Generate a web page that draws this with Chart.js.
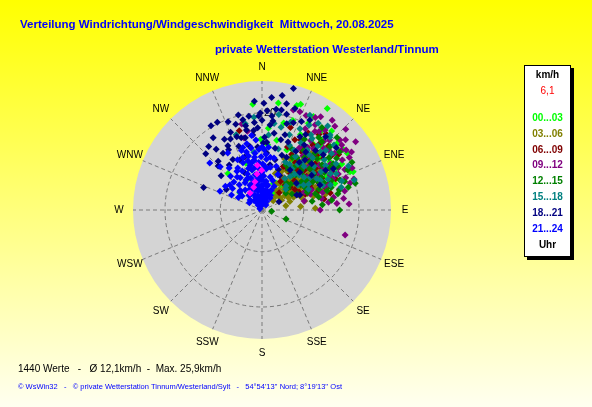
<!DOCTYPE html>
<html>
<head>
<meta charset="utf-8">
<script src="https://cdn.jsdelivr.net/npm/chart.js@4.4.1/dist/chart.umd.min.js"></script>
<style>
  html, body { margin: 0; padding: 0; }
  #wrap { width: 592px; height: 407px; position: relative; }
</style>
</head>
<body>
<div id="wrap"><canvas id="chart"></canvas></div>
<script>
// texts
const titleText = 'Verteilung Windrichtung/Windgeschwindigkeit  Mittwoch, 20.08.2025';
const subtitleText = 'private Wetterstation Westerland/Tinnum';
const valueCount = 1440;
const avgSpeed = '12,1';
const maxSpeed = '25,9';
const footerText = '\u00a9 WsWin32   -   \u00a9 private Wetterstation Tinnum/Westerland/Sylt   -   54\u00b054\'13\'\' Nord; 8\u00b019\'13\'\' Ost';

// compass + radial scale (km/h)
const dirLabels = ['N', 'NNE', 'NE', 'ENE', 'E', 'ESE', 'SE', 'SSE',
                   'S', 'SSW', 'SW', 'WSW', 'W', 'WNW', 'NW', 'NNW'];
const ringSpeeds = [8.6, 20];
const ringLabels = ['', '20'];
const radiusMax = 26.6;

// legend
const legendUnit = 'km/h';
const legendValue = '6,1';
const hourRanges = ['00...03', '03...06', '06...09', '09...12', '12...15', '15...18', '18...21', '21...24'];
const hourColors = ['#00FF00', '#808000', '#800000', '#800080', '#008000', '#008080', '#000080', '#0000FF'];

// points: [direction in degrees, speed in km/h]
const h00_03 = [[355,21.9],[8.7,22.3],[20.1,23.2],[18.4,22.7],[32.7,24.9],[28.8,22.0],[28.1,20.3],[41.4,21.7],
  [48.5,20.7],[56.4,21.1],[66.5,19.8],[60.8,17.6],[53.3,20.9],[308,5.8],[359,14.6],[5,13.5],[341,10.2],
  [38.7,17.2],[46.8,18.6],[40.7,19.0],[51.4,18.4],[54.6,17.2],[67.2,20.4],[317,10.3],[337,7.1],[346,8.5],
  [34,4.2],[28.8,6.3],[11.9,14.7],[22.4,13.4],[35,14.7],[44.8,14.5],[56,15.9],[29.7,10.3],[23,6.0],
  [36.7,17.2],[4.4,16.9],
  [33,12],[40,11],[46,13],[52,14],[58,12.5],[63,15],[48,16],[43,18],[37,20.5],[27,17.5],[19,19.5],
  [14,18.5],[60,19],[70,16],[55,10.5],[45,8.5],[38,6.5],[65,11],[31,5],[25,8]];
const h03_06 = [[45,4],[50,6],[55,8],[60,9],[40,7],[35,5],[65,6],[70,10],[48,11],[52,12],[58,10.5],[62,7.5],
  [42,9],[38,10],[30,8],[28,6],[45,3],[55,4.5],[67,12],[72,8.5],[75,11],[50,13],[44,13.5],[60,13],[36,12],
  [33,9.5],[47,8],[53,10],[64,11.5],[57,7],
  [40,5.5],[46,6.5],[52,7.5],[58,5.5],[63,4.5],[68,7],[73,6],[78,9],[80,5],[34,6.5],[31,11],[39,13],
  [43,11.5],[49,9.5],[54,11],[59,8.5],[66,9.5],[71,12.5],[76,13.5],[56,14],[49,15],[41,15.5],[62,16],
  [69,14.5],[27,9],[24,11.5],[20,8],[85,8],[88,11],[51,3],
  [43,8],[47,10],[52,8.5],[56,9.5],[61,11],[65,13],[68,11],[72,13.5],[38,8],[35,11],[29,12],[60,6.5]];
const h06_09 = [[30,10],[35,12],[40,14],[45,16],[50,13],[55,15],[38,17],[42,11],[48,9],[58,12],[62,14],
  [33,15],[28,13],[25,16],[52,18],[46,19],[36,8],[60,10],[65,13],[40,20.5],[31,18.5],[344,17],[55,9.5],
  [44,12.5],[50,16.5],[68,15],
  [38,9.5],[43,7],[47,12],[53,11.5],[57,13.5],[61,16.5],[66,11],[72,12],[76,14.5],[35,14.5],[29,16.5],
  [22,14],[26,10],[41,18],[49,14.5],[54,19.5],[59,17.5],[64,8.5],[70,9.5],[45,5],[33,7],[37,19.5],
  [51,7.5],[80,13],[19,18],
  [39,12],[44,14.5],[48,11],[52,14],[56,10.5],[60,12.5],[63,11],[67,16.5],[71,14],[34,10.5],[58,8],[46,7.5]];
const h09_12 = [[106.8,17.9],[86,18.0],[83.4,13.8],[71.4,20.0],[64.7,17.4],[78,8.9],[41,22.9],[53.9,23.9],
  [50.8,21.2],[54.5,21.3],[38.2,21.0],[62.8,15.8],[32,20.7],[48.1,21.6],[17.4,21.6],[21.1,21.7],[32.2,22.7],
  [349.5,16.5],[346.7,18.2],[346,15.3],[45,18],[58,19.5],[66,16],[40,16.5],[52,15],[35,17.5],[60,12],
  [70,14],[44,20],[28,19],[25,21.5],[37,14],[56,17],[47,13],[75,16.5],[68,11],
  [42,19],[48,18.5],[53,20.5],[57,22],[61,18],[65,20.5],[69,18.5],[73,19],[77,17.5],[80,15],[85,15.5],
  [90,12],[34,19.5],[30,22],[38,23.5],[46,24],[50,22.5],[63,13.5],[67,9.5],[58,14],[41,12],[36,16],
  [31,15],[54,11.5],[72,10.5],[79,12.5],
  [43,15],[47,17],[52,19],[56,15.5],[60,16.5],[64,19],[69,15],[74,13],[82,17],[40,14.5],[36,20],[59,21]];
const h12_15 = [[110.6,5.3],[98,2.0],[75.3,18.4],[75.5,16.5],[73.5,14.0],[41.2,18.7],[47,19.2],[54.5,10.0],
  [69,17.2],[55.3,18.7],[61,14],[58,16.5],[40,12],[45,14],[50,11],[55,13],[35,15],[30,12.5],[63,10],
  [52,17.5],[43,16],[38,19],[65,19.5],[70,12.5],[48,8],[57,9.5],[33,10],[26,14],[62,21],[72,15],[36,21],[80,10.5],
  [44,10],[39,14],[47,15.5],[51,13.5],[56,11],[59,15],[64,13],[67,15.5],[71,18],[74,20],[77,12],[82,14.5],
  [60,18],[53,20],[46,21.5],[42,7.5],[37,11],[31,17],[28,10.5],[62,7],[66,8],[55,6],[85,12.5],[90,16],
  [41,9.5],[45,11.5],[49,13],[53,15.5],[57,17.5],[61,12],[66,14],[69,10],[73,11.5],[78,16],[34,13],[50,7]];
const h15_18 = [[349,18.1],[355,19.2],[341,16.4],[26.8,21.9],[33,21.3],[42.2,20.9],[50.9,18.5],[30,16],
  [35,18],[40,15],[45,17],[50,14],[55,16],[60,13],[38,12],[42,10],[28,14],[25,18.5],[20,16.5],[48,20],
  [52,11],[58,18],[65,15],[70,17.5],[36,8],[45,7],[15,13],[10,20],[5,15.5],[352,12],[63,20],
  [32,13],[37,15.5],[41,17.5],[44,12.5],[47,10.5],[51,16.5],[54,13],[57,14.5],[61,11],[64,17],[68,13.5],
  [72,20],[33,18.5],[29,20],[23,14.5],[18,19],[13,17.5],[8,18],[40,9],[49,6.5],[55,9],[43,20.5],[38,22],
  [62,16],[26,11],
  [36,10.5],[40,13],[44,15],[47,18],[52,9],[56,12],[59,10],[63,13.5],[66,10.5],[70,15],[74,17],[31,11]];
const h18_21 = [[14.5,25.9],[4.9,23.3],[328.8,20.3],[333,20.3],[332,16.5],[332,15.0],[323,15.7],[315,16.4],
  [315,12.8],[291,12.9],[320,17.1],[346,20.2],[338,17.3],[325.6,14.2],[349,16.8],[353,15.6],[359,20.0],
  [1,13.8],[349,13.4],[347,15.3],[349,17.7],[355,18.1],[358,19.4],[11,21.0],[14.4,20.4],[19.8,19.1],
  [27.4,17.0],[4.7,11.8],[331,14.2],[336,11.3],[35,10.1],[40.7,13.6],[66.7,13.0],[14.6,10.7],[68.5,8.4],
  [5.4,17.6],[17,16.2],[64,3.9],[66.6,7.8],[45,11],[52,9],[30,14],[25,12],[58,15.5],[48,17],[22,9],
  [2,15],[7,18.5],[9,16],[3,20.5],[357,17],[352,19.5],[12,13],[16,18.5],[21,15],[24,20],[18,22],[8,21],
  [343,18.5],[340,14],[326,18],[318,13.5],[310,11],[300,8.5],[335,8.5],[341,16],[356,13],[30,18],[37,15],
  [42,16.5],[10,9.5],[20,12],
  [354,16.5],[0,18.5],[4,14],[348,19],[344,15.5],[339,19.5],[336,16],[330,12],[324,11.5],[342,11.5],
  [6,19.5],[13,22.5],[10,24],[1,22],[356,22.5],[15,15],[28,21],[33,16],[47,14],[55,12.5],[38,12.5],
  [60,17],[27,8],[50,20],[41,20]];
const h21_24 = [[321,1.3],[349,2.1],[335,3.4],[0,4.1],[349,5.3],[334,5.7],[11,3.2],[0,6.2],[349,7.4],
  [336,7.2],[320,5.4],[310,3.2],[39,1.3],[300,0.5],[346,8.5],[355,8.7],[0,7.8],[13,5.3],[34,3.0],[309,5.9],
  [315,8.2],[308,8.4],[323,8.5],[330,10.0],[338,10.5],[329,13.7],[316,12.4],[312,14.5],[345,12.4],
  [353,11.8],[351,10.4],[328,6.6],[355,3],[5,2],[340,4.5],[352,6.5],[358,5],[3,7],[343,6],[327,4],[318,7],
  [8,6],[20,2.5],[350,1],[330,2],[0,3],[345,9.5],[4,9],[338,8],[25,4.5],[15,1.5],[340,11.5],[5,10.5],[20,6.5],
  [352,2.5],[357,4],[2,5],[6,4],[354,6],[348,4],[344,3],[339,5.5],[332,7],[326,8],[342,9],[348,10],
  [356,9.8],[359,11],[2,12.5],[350,13],[355,14.5],[347,14],[341,13],[334,11.5],[1,1.5],[10,4],[14,7],
  [17,4],[28,2],[6,8.5],[9,11],[357,1],[337,2.5],[320,2.5],[305,5],[296,7],[300,3],[331,5],
  [358,2],[3,3],[7,5.5],[12,5],[16,3],[22,4],[27,5.5],[30,3.5],[352,4.5],[346,5],[341,7],[336,5],[333,3],
  [326,2],[318,4],[312,6],[306,7.5],[303,9],[298,5.5],[294,9.5],[317,9.5],[322,11],[327,9.5],[333,9],
  [344,10.5],[351,9],[357,7],[1,9.5],[4,11.5],[357,12.5],[352,11],[346,11.5],[343,13.5],[0,13],[6,13],
  [11,9],[13,11],[24,8],[18,9.5],[352,15.5]];
const special = [[354,9.3],[346,6.0],[325,4.3],[359.5,8.2],[352,7.5],[340,5]];
const specialColor = '#FF00FF';

const hourSeries = [h00_03, h03_06, h06_09, h09_12, h12_15, h15_18, h18_21, h21_24];

function toXY(list) {
  return list.map(([dir, spd]) => {
    const a = dir * Math.PI / 180;
    return { x: spd * Math.sin(a), y: spd * Math.cos(a) };
  });
}

const datasets = hourSeries.map((s, i) => ({
  label: hourRanges[i],
  data: toXY(s),
  backgroundColor: hourColors[i],
  order: hourSeries.length - i + 1
}));
datasets.push({ label: 'special', data: toXY(special), backgroundColor: specialColor, order: 0 });

const FONT = '"Liberation Sans", Arial, sans-serif';

const windRose = {
  id: 'windRose',
  beforeDraw(chart) {
    const ctx = chart.ctx;
    const { width, height } = chart;
    const xs = chart.scales.x, ys = chart.scales.y;
    const cx = xs.getPixelForValue(0), cy = ys.getPixelForValue(0);
    const px = v => xs.getPixelForValue(v) - cx;

    ctx.save();
    const g = ctx.createLinearGradient(0, 0, 0, height);
    g.addColorStop(0, '#FFFF00');
    g.addColorStop(1, '#FFFFF0');
    ctx.fillStyle = g;
    ctx.fillRect(0, 0, width, height);

    const R = px(radiusMax);
    ctx.beginPath();
    ctx.arc(cx, cy, R, 0, Math.PI * 2);
    ctx.fillStyle = '#D4D4D4';
    ctx.fill();

    ctx.strokeStyle = '#7A7A7A';
    ctx.lineWidth = 1;
    ctx.setLineDash([4, 3]);
    ringSpeeds.forEach(v => {
      ctx.beginPath();
      ctx.arc(cx, cy, px(v), 0, Math.PI * 2);
      ctx.stroke();
    });
    dirLabels.forEach((d, i) => {
      const a = i * Math.PI / 8;
      ctx.beginPath();
      ctx.moveTo(cx, cy);
      ctx.lineTo(cx + R * Math.sin(a), cy - R * Math.cos(a));
      ctx.stroke();
    });
    ctx.setLineDash([]);

    ctx.fillStyle = '#000';
    ctx.font = '11px ' + FONT;
    ctx.textAlign = 'left';
    ctx.textBaseline = 'middle';
    ringSpeeds.forEach((v, i) => {
      if (ringLabels[i]) ctx.fillText(ringLabels[i], cx + 2, cy - px(v));
    });

    ctx.font = '10px ' + FONT;
    ctx.textAlign = 'center';
    const LR = R + 14;
    dirLabels.forEach((d, i) => {
      const a = i * Math.PI / 8;
      ctx.fillText(d, cx + LR * Math.sin(a), cy - LR * Math.cos(a));
    });
    ctx.restore();
  },
  afterDraw(chart) {
    const ctx = chart.ctx;
    ctx.save();
    ctx.textBaseline = 'middle';
    ctx.textAlign = 'left';
    ctx.fillStyle = '#0000FF';
    ctx.font = 'bold 11.5px ' + FONT;
    ctx.fillText(titleText, 20, 25);
    ctx.fillText(subtitleText, 215, 50);

    ctx.fillStyle = '#000';
    ctx.font = '10px ' + FONT;
    ctx.fillText(valueCount + ' Werte   -   \u00d8 ' + avgSpeed + 'km/h  -  Max. ' + maxSpeed + 'km/h', 18, 369);
    ctx.fillStyle = '#0000FF';
    ctx.font = '7.5px ' + FONT;
    ctx.fillText(footerText, 18, 387);

    // legend box
    const bx = 524, by = 65, bw = 47, bh = 192;
    ctx.fillStyle = '#000';
    ctx.fillRect(bx + 3, by + 3, bw, bh);
    ctx.fillStyle = '#FFF';
    ctx.fillRect(bx, by, bw, bh);
    ctx.strokeStyle = '#000';
    ctx.lineWidth = 1;
    ctx.strokeRect(bx + 0.5, by + 0.5, bw - 1, bh - 1);

    const mx = bx + bw / 2;
    ctx.textAlign = 'center';
    ctx.font = 'bold 10px ' + FONT;
    ctx.fillStyle = '#000';
    ctx.fillText(legendUnit, mx, 75);
    ctx.font = '10px ' + FONT;
    ctx.fillStyle = '#FF0000';
    ctx.fillText(legendValue, mx, 91);
    ctx.font = 'bold 10px ' + FONT;
    hourRanges.forEach((r, i) => {
      ctx.fillStyle = hourColors[i];
      ctx.fillText(r, mx, 118 + i * 15.9);
    });
    ctx.fillStyle = '#000';
    ctx.fillText('Uhr', mx, 245.5);
    ctx.restore();
  }
};

new Chart(document.getElementById('chart'), {
  type: 'scatter',
  data: { datasets },
  options: {
    responsive: true,
    maintainAspectRatio: false,
    animation: false,
    layout: { padding: { left: 133, right: 201, top: 81, bottom: 68 } },
    plugins: { legend: false, tooltip: false },
    elements: {
      point: { pointStyle: 'rectRot', radius: 3.5, borderWidth: 0, hoverRadius: 3.5 }
    },
    scales: {
      x: { type: 'linear', display: false, min: -radiusMax, max: radiusMax },
      y: { type: 'linear', display: false, min: -radiusMax, max: radiusMax }
    }
  },
  plugins: [windRose]
});
</script>
</body>
</html>
